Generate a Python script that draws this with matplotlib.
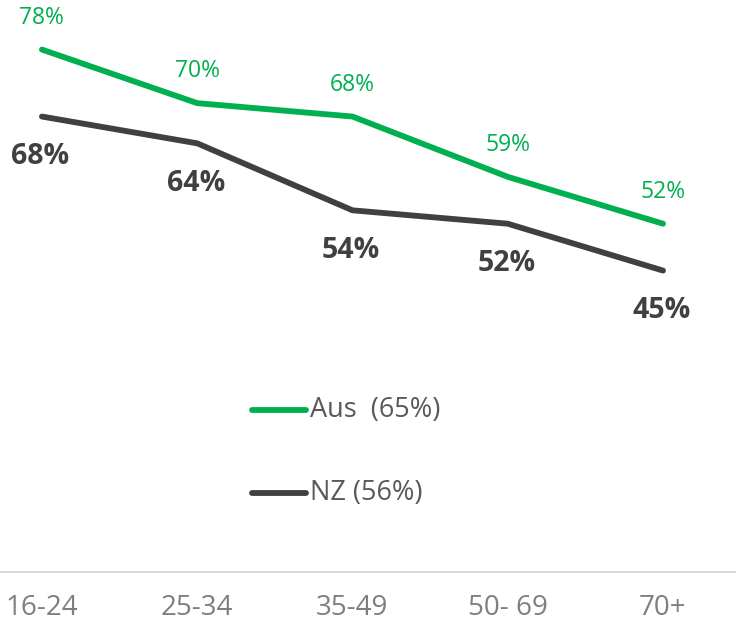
import matplotlib.pyplot as plt
from matplotlib.lines import Line2D

plt.rcParams['font.family'] = ['Open Sans', 'DejaVu Sans']

ages = ['16-24', '25-34', '35-49', '50- 69', '70+']
aus = [78, 70, 68, 59, 52]
nz = [68, 64, 54, 52, 45]
series_names = ['Aus  (65%)', 'NZ (56%)']

green = '#00B050'
dark = '#404040'

W, H = 736, 627
fig = plt.figure(figsize=(W / 100, H / 100), dpi=100)
ax = fig.add_axes([0, 1 - 572 / H, 1, 572 / H])

x = list(range(len(ages)))
ax.plot(x, aus, color=green, lw=4.2, solid_capstyle='round', solid_joinstyle='round')
ax.plot(x, nz, color=dark, lw=4.2, solid_capstyle='round', solid_joinstyle='round')

for xi, v in zip(x, aus):
    ax.annotate(f'{v}%', (xi, v), xytext=(0, 23), textcoords='offset points',
                ha='center', va='center', color=green, fontsize=16.5)
for xi, v in zip(x, nz):
    ax.annotate(f'{v}%', (xi, v), xytext=(-1, -29), textcoords='offset points',
                ha='center', va='center', color=dark, fontsize=20.5, fontweight='bold')

ax.set_xlim(-0.27, 4.47)
ax.set_ylim(0, 85.4)
for s in ['top', 'left', 'right']:
    ax.spines[s].set_visible(False)
ax.spines['bottom'].set_color('#D9D9D9')
ax.spines['bottom'].set_linewidth(1.5)
ax.set_yticks([])
ax.set_xticks(x)
ax.set_xticklabels(ages, fontsize=20, color='#7F7F7F')
ax.tick_params(axis='x', length=0, pad=16)

# legend drawn by hand in pixel positions
for (name, col, yp) in [(series_names[0], green, 410), (series_names[1], dark, 493)]:
    fig.add_artist(Line2D([252 / W, 306 / W], [1 - yp / H, 1 - yp / H], color=col,
                          lw=4.2, solid_capstyle='round'))
    fig.text(310 / W, 1 - yp / H, name, fontsize=19.5, color='#595959', va='center', ha='left')

fig.savefig('out.png', dpi=100)
